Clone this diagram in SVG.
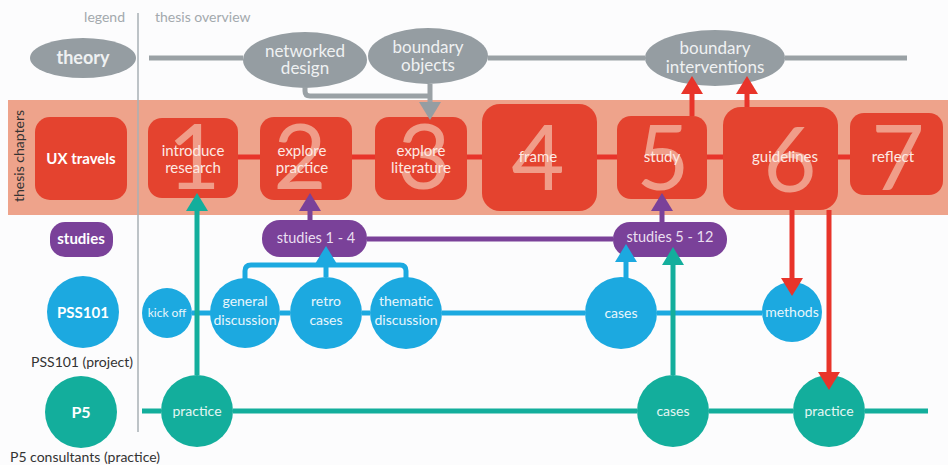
<svg xmlns="http://www.w3.org/2000/svg" width="948" height="465" viewBox="0 0 948 465">
  <style>
    text { font-family: Lato, "Open Sans", "Liberation Sans", sans-serif; text-anchor: middle; }
    .hdr { font-size: 14px; fill: #a3a9ad; }
    .cap { font-size: 14px; fill: #333333; }
    .theo { fill: #959da2; }
    .theo-t { font-size: 17px; fill: #eff1f2; }
    .chap { fill: #e4432f; }
    .num { font-size: 92px; fill: #f09d89; }
    .chap-t { font-size: 15px; fill: #fde9e3; }
    .stud { fill: #7a4199; }
    .stud-t { font-size: 14.5px; fill: #eadff0; }
    .pss { fill: #1ca9e0; }
    .pss-t { font-size: 14px; fill: #e8f6fc; }
    .p5 { fill: #13ae9c; }
    .p5-t { font-size: 14px; fill: #e4f6f3; }
    .lg-t { font-size: 15px; font-weight: bold; fill: #ffffff; }
    .ln { fill: none; stroke-width: 5; stroke-linecap: butt; }
    .gray { stroke: #9aa1a5; }
    .red { stroke: #e8342a; }
    .purple { stroke: #7a4199; }
    .blue { stroke: #1ca9e0; }
    .teal { stroke: #13ae9c; }
  </style>
  <defs>
    <marker id="ah-gray" viewBox="0 0 18 22" refX="0" refY="11" markerWidth="18" markerHeight="22" markerUnits="userSpaceOnUse" orient="auto"><path d="M0,0 L18,11 L0,22 z" fill="#959da2"/></marker>
    <marker id="ah-red" viewBox="0 0 18 22" refX="0" refY="11" markerWidth="18" markerHeight="22" markerUnits="userSpaceOnUse" orient="auto"><path d="M0,0 L18,11 L0,22 z" fill="#e8342a"/></marker>
    <marker id="ah-purple" viewBox="0 0 18 22" refX="0" refY="11" markerWidth="18" markerHeight="22" markerUnits="userSpaceOnUse" orient="auto"><path d="M0,0 L18,11 L0,22 z" fill="#7a4199"/></marker>
    <marker id="ah-blue" viewBox="0 0 18 22" refX="0" refY="11" markerWidth="18" markerHeight="22" markerUnits="userSpaceOnUse" orient="auto"><path d="M0,0 L18,11 L0,22 z" fill="#1ca9e0"/></marker>
    <marker id="ah-teal" viewBox="0 0 18 22" refX="0" refY="11" markerWidth="18" markerHeight="22" markerUnits="userSpaceOnUse" orient="auto"><path d="M0,0 L18,11 L0,22 z" fill="#13ae9c"/></marker>
  </defs>

  <rect width="948" height="465" fill="#fcfcfd"/>

  <!-- chapter band -->
  <rect x="8" y="100" width="940" height="115" fill="#eea38b"/>

  <!-- headers and divider -->
  <g id="legend-header">
    <text class="hdr" x="125" y="22" style="text-anchor:end">legend</text>
    <text class="hdr" x="155" y="22" style="text-anchor:start">thesis overview</text>
    <line x1="138" y1="13" x2="138" y2="432" stroke="#a9b0b5" stroke-width="1.5"/>
    <text class="cap" transform="translate(24,156) rotate(-90)">thesis chapters</text>
    <text class="cap" x="133" y="367" style="text-anchor:end">PSS101 (project)</text>
    <text class="cap" x="10" y="462" style="text-anchor:start">P5 consultants (practice)</text>
  </g>

  <!-- legend swatches -->
  <g id="legend-theory">
    <ellipse class="theo" cx="83" cy="58" rx="53" ry="20"/>
    <text class="lg-t" x="83" y="64" style="font-size:18px;fill:#eff1f2">theory</text>
  </g>
  <g id="legend-ux">
    <rect class="chap" x="35" y="117" width="92" height="83" rx="15"/>
    <text class="lg-t" x="81" y="164">UX travels</text>
  </g>
  <g id="legend-studies">
    <rect class="stud" x="50" y="222" width="63" height="35" rx="15"/>
    <text class="lg-t" x="81" y="244">studies</text>
  </g>
  <g id="legend-pss101">
    <circle class="pss" cx="83" cy="312" r="36"/>
    <text class="lg-t" x="83" y="318">PSS101</text>
  </g>
  <g id="legend-p5">
    <circle class="p5" cx="81" cy="412" r="36"/>
    <text class="lg-t" x="81" y="418" style="font-size:16px">P5</text>
  </g>

  <!-- theory nodes -->
  <g id="networked-design">
    <ellipse class="theo" cx="305" cy="60" rx="62" ry="28"/>
    <text class="theo-t" x="305" y="57">networked</text>
    <text class="theo-t" x="305" y="74">design</text>
  </g>
  <g id="boundary-objects">
    <ellipse class="theo" cx="428" cy="56" rx="60" ry="28"/>
    <text class="theo-t" x="428" y="53">boundary</text>
    <text class="theo-t" x="428" y="71">objects</text>
  </g>
  <g id="boundary-interventions">
    <ellipse class="theo" cx="715" cy="58" rx="70" ry="28"/>
    <text class="theo-t" x="715" y="54">boundary</text>
    <text class="theo-t" x="715" y="73">interventions</text>
  </g>

  <!-- thesis chapters -->
  <g id="ch1">
    <rect class="chap" x="148" y="118" width="90" height="80" rx="14"/>
    <text class="num" x="194" y="189">1</text>
    <text class="chap-t" x="193" y="156">introduce</text>
    <text class="chap-t" x="193" y="173">research</text>
  </g>
  <g id="ch2">
    <rect class="chap" x="260" y="117" width="92" height="83" rx="14"/>
    <text class="num" x="300" y="189">2</text>
    <text class="chap-t" x="302" y="156">explore</text>
    <text class="chap-t" x="302" y="173">practice</text>
  </g>
  <g id="ch3">
    <rect class="chap" x="375" y="117" width="92" height="83" rx="14"/>
    <text class="num" x="424" y="189">3</text>
    <text class="chap-t" x="421" y="156">explore</text>
    <text class="chap-t" x="421" y="173">literature</text>
  </g>
  <g id="ch4">
    <rect class="chap" x="482" y="104" width="115" height="107" rx="18"/>
    <text class="num" x="538" y="190">4</text>
    <text class="chap-t" x="538" y="162">frame</text>
  </g>
  <g id="ch5">
    <rect class="chap" x="617" y="116" width="90" height="83" rx="14"/>
    <text class="num" x="663" y="190">5</text>
    <text class="chap-t" x="662" y="162">study</text>
  </g>
  <g id="ch6">
    <rect class="chap" x="723" y="107" width="115" height="103" rx="18"/>
    <text class="num" x="790" y="192">6</text>
    <text class="chap-t" x="785" y="162">guidelines</text>
  </g>
  <g id="ch7">
    <rect class="chap" x="850" y="113" width="93" height="82" rx="14"/>
    <text class="num" x="898" y="190">7</text>
    <text class="chap-t" x="893" y="162">reflect</text>
  </g>

  <!-- studies -->
  <g id="studies-1-4">
    <rect class="stud" x="262" y="220" width="105" height="37" rx="18"/>
    <text class="stud-t" x="316" y="243">studies 1 - 4</text>
  </g>
  <g id="studies-5-12">
    <rect class="stud" x="613" y="222" width="114" height="35" rx="17"/>
    <text class="stud-t" x="670" y="242">studies 5 - 12</text>
  </g>

  <!-- PSS101 project -->
  <g id="kick-off">
    <circle class="pss" cx="167" cy="313" r="25"/>
    <text class="pss-t" x="167" y="317" style="font-size:12px">kick off</text>
  </g>
  <g id="general-discussion">
    <circle class="pss" cx="245" cy="313" r="35"/>
    <text class="pss-t" x="245" y="306">general</text>
    <text class="pss-t" x="245" y="325">discussion</text>
  </g>
  <g id="retro-cases">
    <circle class="pss" cx="326" cy="313" r="36"/>
    <text class="pss-t" x="326" y="306">retro</text>
    <text class="pss-t" x="326" y="325">cases</text>
  </g>
  <g id="thematic-discussion">
    <circle class="pss" cx="406" cy="313" r="36"/>
    <text class="pss-t" x="406" y="306">thematic</text>
    <text class="pss-t" x="406" y="325">discussion</text>
  </g>
  <g id="pss-cases">
    <circle class="pss" cx="621" cy="313" r="36"/>
    <text class="pss-t" x="621" y="318">cases</text>
  </g>
  <g id="methods">
    <circle class="pss" cx="792" cy="312" r="30"/>
    <text class="pss-t" x="792" y="317">methods</text>
  </g>

  <!-- P5 practice -->
  <g id="p5-practice-1">
    <circle class="p5" cx="197" cy="411" r="36"/>
    <text class="p5-t" x="197" y="416">practice</text>
  </g>
  <g id="p5-cases">
    <circle class="p5" cx="673" cy="411" r="36"/>
    <text class="p5-t" x="673" y="416">cases</text>
  </g>
  <g id="p5-practice-2">
    <circle class="p5" cx="829" cy="411" r="36"/>
    <text class="p5-t" x="829" y="416">practice</text>
  </g>

  <!-- connectors -->
  <g id="connectors">
    <!-- theory timeline -->
    <path class="ln gray" d="M149,58 H243 M488,58 H645 M785,58 H907"/>
    <path class="ln gray" d="M305,87 V91 Q305,96 310,96 H430"/>
    <path class="ln gray" d="M430,84 V102" marker-end="url(#ah-gray)"/>
    <!-- chapter sequence -->
    <path class="ln red" d="M238,157 H260 M352,157 H375 M467,157 H482 M597,157 H617 M707,157 H723 M838,157 H850"/>
    <path class="ln red" d="M692,116 V94" marker-end="url(#ah-red)"/>
    <path class="ln red" d="M747,107 V94" marker-end="url(#ah-red)"/>
    <path class="ln red" d="M792,210 V278" marker-end="url(#ah-red)"/>
    <path class="ln red" d="M829,210 V372" marker-end="url(#ah-red)"/>
    <!-- studies -->
    <path class="ln purple" d="M367,239 H613"/>
    <path class="ln purple" d="M310,220 V211" marker-end="url(#ah-purple)"/>
    <path class="ln purple" d="M662,222 V211" marker-end="url(#ah-purple)"/>
    <!-- PSS101 -->
    <path class="ln blue" d="M192,313 H211 M280,313 H290 M362,313 H370 M442,313 H585 M657,313 H762"/>
    <path class="ln blue" d="M245,279 V271 Q245,265 251,265 H400 Q406,265 406,271 V278"/>
    <path class="ln blue" d="M326,277 V264" marker-end="url(#ah-blue)"/>
    <path class="ln blue" d="M626,278 V262" marker-end="url(#ah-blue)"/>
    <!-- P5 -->
    <path class="ln teal" d="M142,411 H161 M233,411 H637 M709,411 H793 M865,411 H928"/>
    <path class="ln teal" d="M197,375 V211" marker-end="url(#ah-teal)"/>
    <path class="ln teal" d="M673,375 V265" marker-end="url(#ah-teal)"/>
  </g>
</svg>
